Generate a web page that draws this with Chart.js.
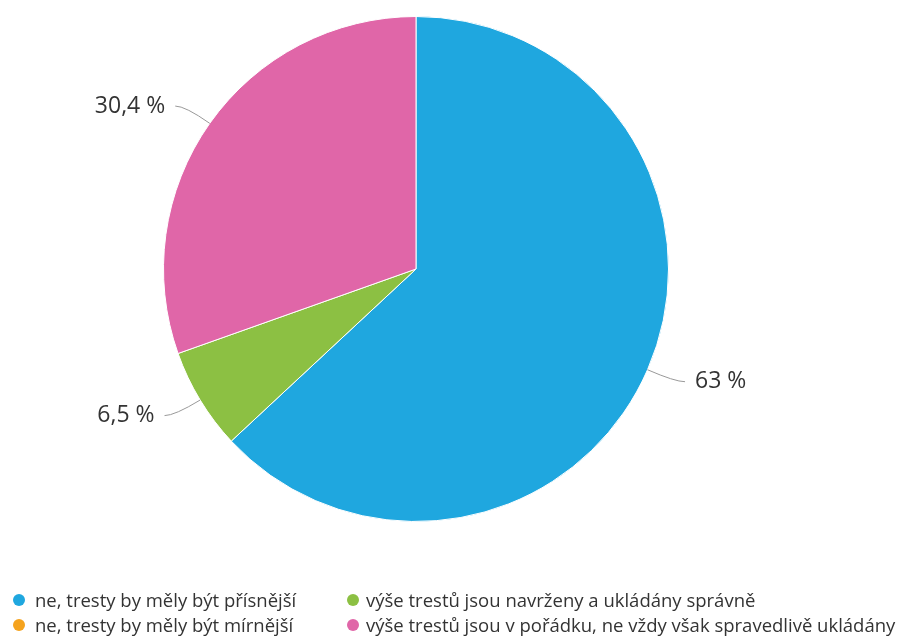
<!DOCTYPE html>
<html>
<head>
<meta charset="utf-8">
<script src="https://cdn.jsdelivr.net/npm/chart.js"></script>
<style>
  body { margin: 0; background: #fff; }
  #wrap { position: relative; width: 904px; height: 641px; }
  #legend { position: absolute; left: 0; top: 0; width: 904px; height: 641px;
    font-family: "Open Sans", sans-serif; font-size: 18.5px; color: #333; pointer-events: none; }
  .item { position: absolute; height: 24px; line-height: 24px; white-space: nowrap; }
  .dot { position: absolute; top: 6px; width: 12px; height: 12px; border-radius: 50%; }
</style>
</head>
<body>
<div id="wrap">
  <canvas id="pieChart" width="904" height="538"></canvas>
  <div id="legend"></div>
</div>
<script>
const categories = [
  'ne, tresty by měly být přísnější',
  'ne, tresty by měly být mírnější',
  'výše trestů jsou navrženy a ukládány správně',
  'výše trestů jsou v pořádku, ne vždy však spravedlivě ukládány'
];
const shares = [63, 0, 6.5, 30.4];
const colors = ['#1fa7df', '#f5a31e', '#8cc043', '#e066a8'];

// leader lines + labels outside the slices
const outsideLabels = {
  id: 'outsideLabels',
  afterDatasetsDraw(chart) {
    const c = chart.ctx;
    const meta = chart.getDatasetMeta(0);
    c.save();
    c.font = '23px "Open Sans", sans-serif';
    c.textBaseline = 'middle';
    meta.data.forEach((arc, i) => {
      const v = shares[i];
      if (!v) return;
      const mid = (arc.startAngle + arc.endAngle) / 2;
      const dx = Math.cos(mid), dy = Math.sin(mid);
      const r = arc.outerRadius;
      const x0 = arc.x + dx * r, y0 = arc.y + dy * r;
      const ex = x0 + dx * 30, ey = y0 + dy * 30;
      const side = dx >= 0 ? 1 : -1;
      const x2 = ex + side * 10;
      c.strokeStyle = '#999';
      c.lineWidth = 1;
      c.beginPath();
      c.moveTo(x0, y0);
      c.quadraticCurveTo(ex, ey, x2, ey);
      c.stroke();
      c.fillStyle = '#333';
      c.textAlign = side > 0 ? 'left' : 'right';
      c.fillText(String(v).replace('.', ',') + ' %', x2 + side * 10, ey);
    });
    c.restore();
  }
};

const ctx = document.getElementById('pieChart').getContext('2d');
const myPieChart = new Chart(ctx, {
  type: 'pie',
  data: {
    labels: categories,
    datasets: [{
      data: shares,
      backgroundColor: colors,
      borderColor: '#fff',
      borderWidth: 1
    }]
  },
  options: {
    responsive: false,
    animation: false,
    layout: { padding: { top: 16, bottom: 16, left: 0, right: 72 } },
    plugins: {
      legend: { display: false },
      tooltip: { enabled: false }
    }
  },
  plugins: [outsideLabels]
});

// legend in two columns, filled column by column like the original
const legend = document.getElementById('legend');
const colX = [13, 347];
const rowY = [588, 613];
categories.forEach((name, i) => {
  const col = Math.floor(i / 2), row = i % 2;
  const el = document.createElement('div');
  el.className = 'item';
  el.style.left = colX[col] + 'px';
  el.style.top = rowY[row] + 'px';
  el.innerHTML = '<span class="dot" style="left:0;background:' + colors[i] + '"></span>' +
    '<span style="margin-left:' + (col ? 19 : 22) + 'px">' + name + '</span>';
  legend.appendChild(el);
});
</script>
</body>
</html>
